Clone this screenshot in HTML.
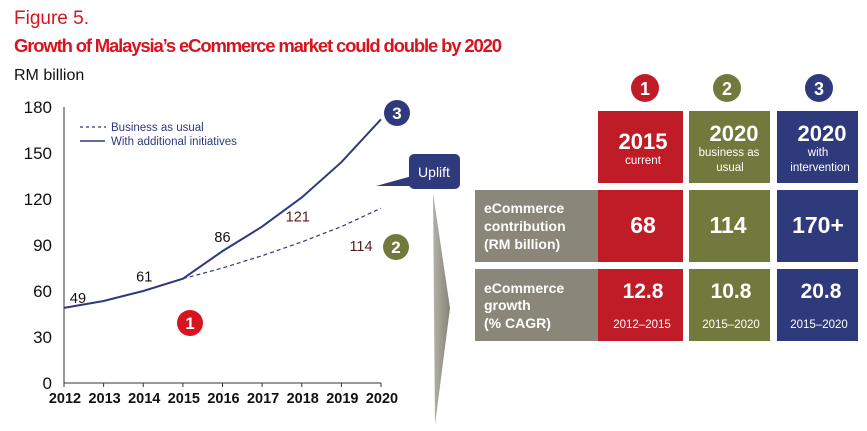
<!DOCTYPE html>
<html><head><meta charset="utf-8"><style>
body{margin:0;background:#fff;}
svg{display:block;font-family:"Liberation Sans",Arial,sans-serif;}
</style></head><body>
<svg id="chart" width="867" height="431" viewBox="0 0 867 431">
<defs><linearGradient id="ag" x1="0" x2="1"><stop offset="0" stop-color="#b4b1a6"/><stop offset="1" stop-color="#868377"/></linearGradient></defs>
<text x="14" y="24" font-size="19" fill="#d7141f">Figure 5.</text>
<text x="14" y="52" font-size="18.5" font-weight="bold" fill="#d7141f" textLength="488">Growth of Malaysia’s eCommerce market could double by 2020</text>
<text x="14" y="80" font-size="16" fill="#111">RM billion</text>
<g id="axes"></g>
<g id="series"></g>
<g>
<line x1="80" y1="127" x2="106" y2="127" stroke="#2e3a7c" stroke-width="1.2" stroke-dasharray="3,3"/>
<text x="111" y="131" font-size="11.5" fill="#2e3a7c">Business as usual</text>
<line x1="80" y1="141" x2="105" y2="141" stroke="#2e3a7c" stroke-width="1.5"/>
<text x="111" y="145" font-size="11.5" fill="#2e3a7c">With additional  initiatives</text>
</g>
<g><circle cx="397" cy="113" r="13" fill="#2e3a7c"/><text x="397" y="119" font-size="17" font-weight="bold" fill="#fff" text-anchor="middle">3</text></g>
<g><circle cx="396" cy="247" r="13" fill="#717a3c"/><text x="396" y="253" font-size="17" font-weight="bold" fill="#fff" text-anchor="middle">2</text></g>
<g><circle cx="190" cy="323" r="13" fill="#d7141f"/><text x="190" y="329" font-size="17" font-weight="bold" fill="#fff" text-anchor="middle">1</text></g>
<g>
<polygon points="376,186 412,176 412,186" fill="#2e3a7c"/>
<rect x="409" y="154" width="51" height="35" rx="5" fill="#2e3a7c"/>
<text x="434" y="177" font-size="14" fill="#fff" text-anchor="middle">Uplift</text>
</g>
<polygon points="433,193 450,308 435,425" fill="url(#ag)"/>
<g>
<g><circle cx="645" cy="88" r="14" fill="#c01c27"/><text x="645" y="95" font-size="18" font-weight="bold" fill="#fff" text-anchor="middle">1</text></g>
<g><circle cx="727" cy="88" r="14" fill="#717a3c"/><text x="727" y="95" font-size="18" font-weight="bold" fill="#fff" text-anchor="middle">2</text></g>
<g><circle cx="819" cy="88" r="14" fill="#2e3a7c"/><text x="819" y="95" font-size="18" font-weight="bold" fill="#fff" text-anchor="middle">3</text></g>
<rect x="598" y="111" width="85" height="72" fill="#c01c27"/>
<rect x="689" y="111" width="81" height="72" fill="#717a3c"/>
<rect x="777" y="111" width="81" height="72" fill="#2e3a7c"/>
<rect x="475" y="190" width="123" height="72" fill="#8a877a"/>
<rect x="598" y="190" width="85" height="72" fill="#c01c27"/>
<rect x="689" y="190" width="81" height="72" fill="#717a3c"/>
<rect x="777" y="190" width="81" height="72" fill="#2e3a7c"/>
<rect x="475" y="269" width="123" height="72" fill="#8a877a"/>
<rect x="598" y="269" width="85" height="72" fill="#c01c27"/>
<rect x="689" y="269" width="81" height="72" fill="#717a3c"/>
<rect x="777" y="269" width="81" height="72" fill="#2e3a7c"/>
<g fill="#fff" text-anchor="middle">
<text x="643" y="149" font-size="22" font-weight="bold">2015</text>
<text x="643" y="164" font-size="11.5">current</text>
<text x="734" y="141" font-size="22" font-weight="bold">2020</text>
<text x="729" y="156" font-size="11.5">business as</text>
<text x="730" y="171" font-size="11.5">usual</text>
<text x="822" y="141" font-size="22" font-weight="bold">2020</text>
<text x="818" y="156" font-size="11.5">with</text>
<text x="820" y="171" font-size="11.5">intervention</text>
<text x="643" y="233" font-size="23" font-weight="bold">68</text>
<text x="728" y="233" font-size="23" font-weight="bold">114</text>
<text x="818" y="233" font-size="23" font-weight="bold">170+</text>
<text x="643" y="298" font-size="21" font-weight="bold">12.8</text>
<text x="642" y="328" font-size="11.5">2012–2015</text>
<text x="731" y="298" font-size="21" font-weight="bold">10.8</text>
<text x="731" y="328" font-size="11.5">2015–2020</text>
<text x="821" y="298" font-size="21" font-weight="bold">20.8</text>
<text x="819" y="328" font-size="11.5">2015–2020</text>
</g>
<g fill="#fff" font-size="14" font-weight="bold">
<text x="484" y="213">eCommerce</text>
<text x="484" y="231">contribution</text>
<text x="484" y="249">(RM billion)</text>
<text x="484" y="293">eCommerce</text>
<text x="484" y="310">growth</text>
<text x="484" y="328">(% CAGR)</text>
</g>
</g>
</svg>
<script>
const years = [2012, 2013, 2014, 2015, 2016, 2017, 2018, 2019, 2020];
const withInitiatives = [49, 53.5, 60, 68, 86, 102, 121, 144, 172];
const bauYears = [2015, 2016, 2017, 2018, 2019, 2020];
const businessAsUsual = [68, 75, 83, 92, 102, 114];
const yTicks = [0, 30, 60, 90, 120, 150, 180];
const pointLabels = [49, 61, 86, 121, 114];
const labelYears = [2012, 2014, 2016, 2018, 2020];
const labelVals = [49, 61, 86, 121, 114];

const NS = "http://www.w3.org/2000/svg";
const X0 = 64, X1 = 381, Y0 = 383, Y1 = 107;
const xs = y => X0 + (y - 2012) * (X1 - X0) / 8;
const ys = v => Y0 - v * (Y0 - Y1) / 180;
function mk(tag, attrs, parent, txt) {
  const e = document.createElementNS(NS, tag);
  for (const k in attrs) e.setAttribute(k, attrs[k]);
  if (txt !== undefined) e.textContent = txt;
  parent.appendChild(e);
  return e;
}
const axes = document.getElementById('axes');
const series = document.getElementById('series');
let e = mk('line', {x1: X0, y1: Y1, x2: X0, y2: Y0, stroke: '#333', 'stroke-width': 1}, axes);


e = mk('line', {x1: X0, y1: Y0, x2: X1, y2: Y0, stroke: '#333', 'stroke-width': 1}, axes);


yTicks.forEach(t => {
  const el = mk('text', {x: 52, y: ys(t) + 6, 'font-size': 17, fill: '#111', 'text-anchor': 'end'}, axes, t);
  
  
});
years.forEach(y => {
  const tk = mk('line', {x1: xs(y), y1: Y0, x2: xs(y), y2: Y0 + 4, stroke: '#333'}, axes);
  
  
  const el = mk('text', {x: xs(y) + 1, y: 403, 'font-size': 14.5, 'font-weight': 'bold', fill: '#111', 'text-anchor': 'middle'}, axes, y);
  
  
});
const bau = mk('polyline', {points: bauYears.map((y, i) => xs(y) + ',' + ys(businessAsUsual[i])).join(' '), fill: 'none', stroke: '#2e3a7c', 'stroke-width': 1.2, 'stroke-dasharray': '4,3'}, series);


const wi = mk('polyline', {points: years.map((y, i) => xs(y) + ',' + ys(withInitiatives[i])).join(' '), fill: 'none', stroke: '#2e3a7c', 'stroke-width': 2}, series);


const offs = [[14, -5], [1, -8], [0, -9], [-4, 24], [-20, 43]];
labelYears.forEach((y, i) => {
  const el = mk('text', {x: xs(y) + offs[i][0], y: ys(labelVals[i]) + offs[i][1], 'font-size': 14.5, fill: i >= 3 ? '#5a1a1a' : '#111', 'text-anchor': 'middle'}, series, pointLabels[i]);
  
  
});
</script>
</body></html>
